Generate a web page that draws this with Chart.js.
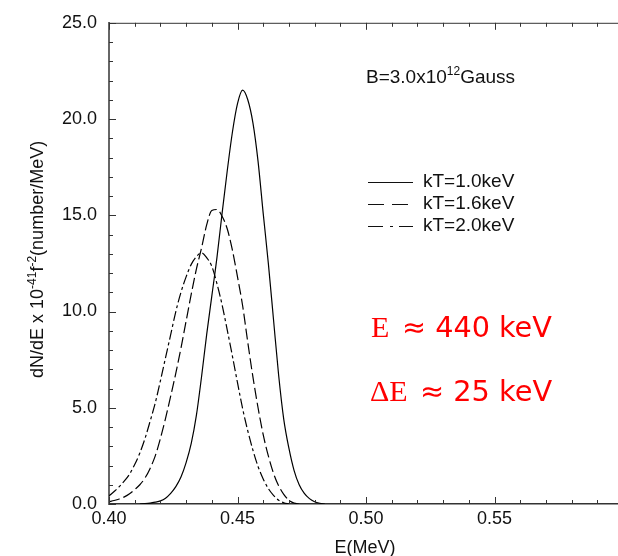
<!DOCTYPE html>
<html>
<head>
<meta charset="utf-8">
<script src="https://cdn.jsdelivr.net/npm/chart.js@4.4.1/dist/chart.umd.min.js"></script>
<style>
html,body{margin:0;padding:0;background:#fff;overflow:hidden;width:618px;height:556px}
#wrap{position:relative;width:640px;height:556px}
canvas{display:block}
</style>
</head>
<body>
<div id="wrap"><canvas id="c" width="640" height="556"></canvas></div>
<script>
// ---- data ----
const energies = [0.400,0.402,0.404,0.406,0.408,0.410,0.412,0.414,0.416,0.418,
                  0.420,0.422,0.424,0.426,0.428,0.430,0.432,0.434,0.436,0.438,
                  0.440,0.442,0.444,0.446,0.448,0.450,0.452,0.454,0.456,0.458,
                  0.460,0.462,0.464,0.466,0.468,0.470,0.472,0.474,0.476,0.478,
                  0.480,0.482,0.484,0.486];
const kT10 = [null,null,null,null,null,null,0,0.02,0.05,0.10,
              0.16,0.30,0.55,0.90,1.40,2.15,3.15,4.60,6.60,8.80,
              10.8,12.8,15.1,17.3,19.3,20.8,21.5,21.0,19.8,17.8,
              15.1,12.5,9.6,6.7,4.4,2.9,1.75,1.0,0.55,0.28,
              0.12,0.04,0,null];
const kT16 = [0.12,0.18,0.26,0.37,0.53,0.75,1.0,1.35,1.85,2.5,
              3.4,4.45,5.6,6.8,8.1,9.5,10.9,12.2,13.3,14.5,
              15.25,15.3,14.95,14.3,13.2,11.8,10.3,8.4,6.6,5.0,
              3.6,2.5,1.6,0.95,0.5,0.2,0.05,0,null,null,
              null,null,null,null];
const kT20 = [0.42,0.65,0.9,1.2,1.55,2.05,2.65,3.4,4.3,5.25,
              6.4,7.6,8.8,10.0,11.0,11.8,12.45,12.85,13.05,12.8,
              12.35,11.45,10.35,9.05,7.7,6.3,4.95,3.8,2.8,1.95,
              1.3,0.8,0.45,0.2,0.06,0,null,null,null,null,
              null,null,null,null];
const seriesLabels = ['kT=1.0keV','kT=1.6keV','kT=2.0keV'];
const xTickLabels = ['0.40','0.45','0.50','0.55'];
const yTickLabels = ['0.0','5.0','10.0','15.0','20.0','25.0'];
const xTitle = 'E(MeV)';
const fieldText = ['B=3.0x10','12','Gauss'];
const note1 = ['E','≈ 440 keV'];
const note2 = ['ΔE','≈ 25 keV'];

// ---- styling ----
const SANS = "'Liberation Sans', Arial, sans-serif";
const SERIF = "'Liberation Serif', 'Times New Roman', serif";
const dashes = [[], [11,4], [10,3,3,3]];
const legendDashes = [[], [16,8], [15,7,3,6]];

const curves = [kT10, kT16, kT20];

const decor = {
  id: 'decor',
  afterDraw(chart) {
    const ctx = chart.ctx, a = chart.chartArea;
    const xs = chart.scales.x, ys = chart.scales.y;
    ctx.save();
    const seg = (x1,y1,x2,y2) => { ctx.beginPath(); ctx.moveTo(x1,y1); ctx.lineTo(x2,y2); ctx.stroke(); };
    // frame top
    ctx.strokeStyle = '#333'; ctx.lineWidth = 1;
    seg(a.left, a.top + 0.5, a.right, a.top + 0.5);
    // inward ticks on x (bottom & top)
    for (let k = 0; k <= 20; k++) {
      const v = xs.min + k * 0.01;
      const px = Math.round(xs.getPixelForValue(v)) + 0.5;
      const len = (k % 5 === 0) ? 7 : 4;
      seg(px, a.bottom, px, a.bottom - len);
      seg(px, a.top, px, a.top + len);
    }
    // inward ticks on y (left)
    for (let k = 0; k <= 25; k++) {
      const py = Math.round(ys.getPixelForValue(k)) + 0.5;
      const len = (k % 5 === 0) ? 7 : 4;
      seg(a.left, py, a.left + len, py);
    }
    ctx.fillStyle = '#111';
    // x title
    ctx.font = '18px ' + SANS; ctx.textAlign = 'center'; ctx.textBaseline = 'alphabetic';
    ctx.fillText(xTitle, 365, 553);
    // y title with superscripts
    ctx.save();
    ctx.translate(43, (a.top + a.bottom) / 2 - 4);
    ctx.rotate(-Math.PI / 2);
    const parts = [['dN/dE x 10', 18, 0], ['-41', 12, -7], ['f', 18, 0], ['-2', 12, -7], ['(number/MeV)', 18, 0]];
    let total = 0;
    parts.forEach(p => { ctx.font = p[1] + 'px ' + SANS; total += ctx.measureText(p[0]).width; });
    let cx = -total / 2;
    ctx.textAlign = 'left';
    parts.forEach(p => { ctx.font = p[1] + 'px ' + SANS; ctx.fillText(p[0], cx, p[2]); cx += ctx.measureText(p[0]).width; });
    ctx.restore();
    // field label
    ctx.textAlign = 'left'; ctx.textBaseline = 'alphabetic';
    let fx = 366;
    ctx.font = '19px ' + SANS; ctx.fillText(fieldText[0], fx, 83); fx += ctx.measureText(fieldText[0]).width;
    ctx.font = '12px ' + SANS; ctx.fillText(fieldText[1], fx, 75); fx += ctx.measureText(fieldText[1]).width;
    ctx.font = '19px ' + SANS; ctx.fillText(fieldText[2], fx, 83);
    // legend
    const ly = [182, 204, 226];
    seriesLabels.forEach((lab, i) => {
      ctx.strokeStyle = '#111'; ctx.lineWidth = 1.2; ctx.setLineDash(legendDashes[i]);
      seg(368, ly[i] + 0.5, 413, ly[i] + 0.5);
      ctx.setLineDash([]);
      ctx.font = '19px ' + SANS; ctx.textBaseline = 'middle';
      ctx.fillText(lab, 423, ly[i]);
    });
    // red notes
    ctx.fillStyle = '#ff0000'; ctx.textBaseline = 'alphabetic';
    const note = (n, x0, xs0, xe, base) => {
      ctx.font = '30px ' + SERIF; ctx.fillText(n[0], x0, base);
      ctx.font = '30px "DejaVu Sans", sans-serif';
      const w = ctx.measureText(n[1]).width;
      const size = 30 * (xe - xs0) / w;
      ctx.font = size.toFixed(1) + 'px "DejaVu Sans", sans-serif';
      ctx.fillText(n[1], xs0, base);
    };
    note(note1, 371, 402, 552, 337);
    note(note2, 370, 420, 552, 401);
    ctx.restore();
  }
};

new Chart(document.getElementById('c'), {
  type: 'line',
  data: {
    datasets: curves.map((vals, i) => ({
      label: seriesLabels[i],
      data: energies.map((e, j) => ({ x: e, y: vals[j] })),
      borderColor: '#000',
      borderWidth: 1.2,
      borderDash: dashes[i],
      pointRadius: 0,
      fill: false,
      spanGaps: false,
      cubicInterpolationMode: 'monotone'
    }))
  },
  options: {
    responsive: false,
    animation: false,
    devicePixelRatio: 1,
    layout: { padding: { top: 18, right: 17, left: 0, bottom: 0 } },
    plugins: { legend: { display: false }, tooltip: { enabled: false } },
    scales: {
      x: {
        type: 'linear', min: 0.40, max: 0.60,
        afterFit: s => { s.height = 52; },
        grid: { display: false, drawTicks: false },
        border: { display: true, color: '#333', width: 1.5 },
        ticks: {
          stepSize: 0.05, autoSkip: false, maxRotation: 0, padding: 4,
          color: '#111', font: { family: SANS, size: 18 },
          callback: (v, i) => xTickLabels[i] !== undefined ? xTickLabels[i] : ''
        }
      },
      y: {
        min: 0, max: 25,
        afterFit: s => { s.width = 109; },
        grid: { display: false, drawTicks: false },
        border: { display: true, color: '#666', width: 2 },
        ticks: {
          stepSize: 5, padding: 12, color: '#111', font: { family: SANS, size: 18 },
          callback: (v, i) => yTickLabels[i] !== undefined ? yTickLabels[i] : ''
        }
      }
    }
  },
  plugins: [decor]
});
</script>
</body>
</html>
